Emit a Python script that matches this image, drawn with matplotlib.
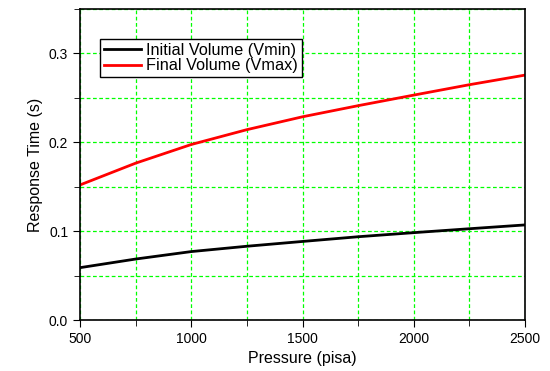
import matplotlib
matplotlib.use("Agg")
import matplotlib.pyplot as plt
from matplotlib.ticker import MultipleLocator

plt.rcParams["font.family"] = ["Liberation Sans", "DejaVu Sans"]

pressure = [500, 750, 1000, 1250, 1500, 1750, 2000, 2250, 2500]
v_min = [0.0589, 0.0686, 0.0770, 0.0830, 0.0884, 0.0937, 0.0983, 0.1027, 0.1070]
v_max = [0.1520, 0.1765, 0.1975, 0.2142, 0.2287, 0.2412, 0.2531, 0.2648, 0.2756]


def main() -> None:
    fig = plt.figure(figsize=(5.5, 3.71), dpi=100)
    ax = fig.add_axes([80 / 550, 1 - 320 / 371, 445 / 550, 311 / 371])
    ax.plot(pressure, v_min, color="black", linewidth=2, label="Initial Volume (Vmin)")
    ax.plot(pressure, v_max, color="red", linewidth=2, label="Final Volume (Vmax)")
    ax.set_xlim(500, 2500)
    ax.set_ylim(0, 0.35)
    ax.xaxis.set_major_locator(MultipleLocator(500))
    ax.xaxis.set_minor_locator(MultipleLocator(250))
    ax.yaxis.set_major_locator(MultipleLocator(0.1))
    ax.yaxis.set_minor_locator(MultipleLocator(0.05))
    ax.yaxis.set_major_formatter(plt.FormatStrFormatter("%.1f"))
    ax.grid(True, which="both", color="#00ff00", linestyle=(0, (3, 2)), linewidth=0.9)
    ax.tick_params(which="both", direction="out", labelsize=10)
    ax.tick_params(which="major", length=5)
    ax.tick_params(which="minor", length=4)
    for s in ax.spines.values():
        s.set_linewidth(1.2)
    ax.set_xlabel("Pressure (pisa)", fontsize=11.5)
    ax.set_ylabel("Response Time (s)", fontsize=11.5)
    leg = ax.legend(loc="upper left", bbox_to_anchor=(0.045, 0.905), fontsize=11.7,
                    fancybox=False, edgecolor="black", framealpha=1,
                    handlelength=2.3, borderpad=0.25, labelspacing=0.05,
                    handletextpad=0.3, borderaxespad=0)
    leg.get_frame().set_linewidth(1.0)
    fig.savefig("out.png", dpi=100)


if __name__ == "__main__":
    main()
